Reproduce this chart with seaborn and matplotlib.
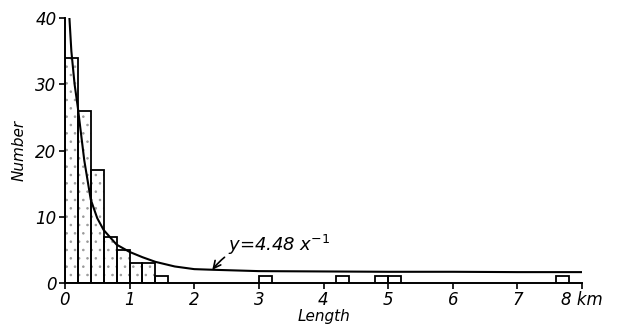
import numpy as np
import pandas as pd
import matplotlib
matplotlib.use("Agg")
import matplotlib.pyplot as plt
import seaborn as sns

# Histogram: left edges of 0.2-km bins and their counts
bin_left = [0.0, 0.2, 0.4, 0.6, 0.8, 1.0, 1.2, 1.4, 3.0, 4.2, 4.8, 5.0, 7.6]
counts = [34, 26, 17, 7, 5, 3, 3, 1, 1, 1, 1, 1, 1]
bin_width = 0.2

# Fitted curve y = 4.48 x^-1 as drawn
curve_x = [0.07, 0.1, 0.15, 0.2, 0.3, 0.4, 0.5, 0.6, 0.8, 1.0, 1.2, 1.4, 1.7, 2.0, 2.3, 3.0, 4.0, 5.0, 6.0, 7.0, 8.0]
curve_y = [40, 35, 30, 26.5, 18.5, 12.6, 9.8, 8.0, 5.8, 4.7, 3.9, 3.2, 2.5, 2.1, 2.0, 1.8, 1.75, 1.7, 1.7, 1.65, 1.65]

x_ticks = [0, 1, 2, 3, 4, 5, 6, 7, 8]
x_ticklabels = ["0", "1", "2", "3", "4", "5", "6", "7", "8 km"]
y_ticks = [0, 10, 20, 30, 40]

sns.set_style("ticks")
plt.rcParams["font.family"] = ["DejaVu Sans"]
plt.rcParams["hatch.linewidth"] = 0.6
plt.rcParams["hatch.color"] = "#9a9a9a"
plt.rcParams["text.color"] = "black"
plt.rcParams["xtick.color"] = "black"
plt.rcParams["ytick.color"] = "black"
plt.rcParams["axes.labelcolor"] = "black"

fig = plt.figure(figsize=(6.3, 3.33), dpi=100)
ax = fig.add_axes([0.103, 0.150, 0.821, 0.796])

df = pd.DataFrame({"x": np.array(bin_left) + bin_width / 2, "n": counts})

# stippled fill
sns.histplot(data=df, x="x", weights="n", binwidth=bin_width, binrange=(0, 8),
             ax=ax, color="white", edgecolor="#9a9a9a", linewidth=0,
             alpha=1, hatch="..", zorder=1)
# outlines
sns.histplot(data=df, x="x", weights="n", binwidth=bin_width, binrange=(0, 8),
             ax=ax, fill=False, element="bars", color="black",
             edgecolor="black", linewidth=1.3, zorder=2)
# remove zero-height bar outlines
for p in ax.patches:
    if p.get_height() == 0:
        p.set_visible(False)

sns.lineplot(x=curve_x, y=curve_y, ax=ax, color="black", linewidth=1.5, zorder=3)

ax.annotate("y=4.48 x$^{-1}$", xy=(2.28, 2.0), xytext=(2.52, 5.8),
            fontsize=13, style="italic", va="center", ha="left",
            arrowprops=dict(arrowstyle="->", color="black", lw=1.2,
                            connectionstyle="arc3,rad=0.3",
                            shrinkA=0, shrinkB=0))

ax.set_xlim(0, 8)
ax.set_ylim(0, 40)
ax.set_xticks(x_ticks)
ax.set_xticklabels(x_ticklabels, style="italic", fontsize=12)
ax.set_yticks(y_ticks)
ax.set_yticklabels([str(v) for v in y_ticks], style="italic", fontsize=12)
ax.tick_params(direction="out", length=4, width=1.2, color="black", pad=2)
for s in ["top", "right"]:
    ax.spines[s].set_visible(False)
for s in ["left", "bottom"]:
    ax.spines[s].set_linewidth(1.4)
    ax.spines[s].set_color("black")
ax.set_xlabel("Length", style="italic", fontsize=11, labelpad=0)
ax.set_ylabel("Number", style="italic", fontsize=11, labelpad=6)

fig.savefig("out.png", dpi=100)
